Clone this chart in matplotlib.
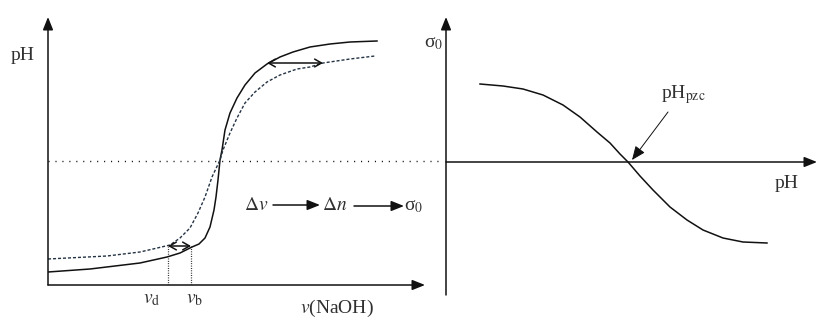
import matplotlib
matplotlib.use("Agg")
import matplotlib.pyplot as plt

plt.rcParams['font.family'] = ['Liberation Serif', 'DejaVu Serif']
plt.rcParams['mathtext.fontset'] = 'stix'

# titration curves (left panel), arbitrary units
v_solid = [0, 42, 92, 119, 132, 144, 151, 157, 162, 166, 168, 170, 172, 174, 177, 182, 189,
           197, 207, 219, 232, 245, 262, 282, 302, 329]
ph_solid = [13, 16, 22, 28, 32, 38, 41, 47, 58, 75, 88, 105, 125, 135, 155, 172, 187,
            200, 212, 221, 228, 233, 238, 241, 243, 244]
v_dash = [0, 59, 92, 105, 122, 132, 142, 150, 157, 164, 172, 175, 182, 189, 197, 207,
          219, 232, 249, 262, 275, 302, 327]
ph_dash = [26, 29, 33, 36, 40, 47, 57, 72, 88, 108, 125, 135, 152, 167, 182, 193,
           203, 210, 216, 218, 222, 226, 229]
ph_ref = 124
v_d, v_b, ph_low = 120, 143, 39
v_up1, v_up2, ph_up = 219, 275, 222

# surface charge curve (right panel)
ph_sig = [34, 57, 77, 97, 117, 134, 151, 164, 174, 182, 194, 207, 224, 241, 257, 277, 297, 321]
sigma0 = [78, 76, 73, 67, 57, 45, 30, 19, 8, 0, -14, -28, -45, -58, -68, -76, -80, -81]
ph_pzc = 182

ink = '#111111'
txt = '#303030'

fig = plt.figure(figsize=(8.3, 3.24), dpi=100)
ax1 = fig.add_axes([48/830, 39/324, 392/830, 275/324])
ax1.set_xlim(0, 392)
ax1.set_ylim(0, 275)
ax1.axis('off')

ax2 = fig.add_axes([446/830, 29/324, 384/830, 285/324])
ax2.set_xlim(0, 384)
ax2.set_ylim(-133, 152)
ax2.axis('off')

axis_arrow = dict(arrowstyle='-|>,head_length=0.55,head_width=0.22', color=ink,
                  lw=1.1, mutation_scale=14, shrinkA=0, shrinkB=0)
dbl_arrow = dict(arrowstyle='<->,head_length=0.35,head_width=0.2', color=ink,
                 lw=1.1, mutation_scale=14, shrinkA=0, shrinkB=0)

# left panel
ax1.annotate('', xy=(0, 268), xytext=(0, 0), arrowprops=axis_arrow, annotation_clip=False)
ax1.annotate('', xy=(377, 0), xytext=(0, 0), arrowprops=axis_arrow, annotation_clip=False)
ax1.plot([0, 392], [ph_ref, ph_ref], color=ink, lw=1.0, dashes=(0.8, 4.2), clip_on=False)
ax1.plot(v_solid, ph_solid, color=ink, lw=1.1, solid_joinstyle='round')
ax1.plot(v_dash, ph_dash, color='#243343', lw=1.0, dashes=(2.2, 1.4))
ax1.plot([v_d, v_d], [0, ph_low], color=ink, lw=0.9, dashes=(0.7, 1.2))
ax1.plot([v_b, v_b], [0, ph_low], color=ink, lw=0.9, dashes=(0.7, 1.2))
ax1.annotate('', xy=(v_d, ph_low), xytext=(v_b, ph_low), arrowprops=dbl_arrow)
ax1.annotate('', xy=(v_up1, ph_up), xytext=(v_up2, ph_up), arrowprops=dbl_arrow)

ax1.text(-25, 230, 'pH', fontsize=14, color=txt, ha='center', va='center')
ax1.text(v_d - 16, -15, '$v_{\\mathrm{d}}$', fontsize=14, color=txt, ha='center', va='center')
ax1.text(v_b + 4, -15, '$v_{\\mathrm{b}}$', fontsize=14, color=txt, ha='center', va='center')
ax1.text(289, -23, '$v$(NaOH)', fontsize=14, color=txt, ha='center', va='center')

ax1.text(208, 80, '$\\Delta v$', fontsize=14, color=txt, ha='center', va='center')
ax1.annotate('', xy=(272, 80), xytext=(225, 80), arrowprops=axis_arrow)
ax1.text(287, 80, '$\\Delta n$', fontsize=14, color=txt, ha='center', va='center')
ax1.annotate('', xy=(356, 79), xytext=(306, 79), arrowprops=axis_arrow)
ax1.text(366, 79, 'σ$_0$', fontsize=14, color=txt, ha='center', va='center')

# right panel
ax2.annotate('', xy=(0, 145), xytext=(0, -133), arrowprops=axis_arrow, annotation_clip=False)
ax2.annotate('', xy=(371, 0), xytext=(0, 0), arrowprops=axis_arrow, annotation_clip=False)
ax2.plot(ph_sig, sigma0, color=ink, lw=1.1, solid_joinstyle='round')
ax2.annotate('', xy=(ph_pzc + 4, 2), xytext=(222, 50),
             arrowprops=dict(arrowstyle='-|>,head_length=0.6,head_width=0.25', color=ink,
                             lw=0.7, mutation_scale=14, shrinkA=0, shrinkB=0))
ax2.text(237, 67, 'pH$_{\\mathrm{pzc}}$', fontsize=14, color=txt, ha='center', va='center')
ax2.text(-12, 119, 'σ$_0$', fontsize=14, color=txt, ha='center', va='center')
ax2.text(341, -21, 'pH', fontsize=14, color=txt, ha='center', va='center')

fig.savefig('out.png', dpi=100)
